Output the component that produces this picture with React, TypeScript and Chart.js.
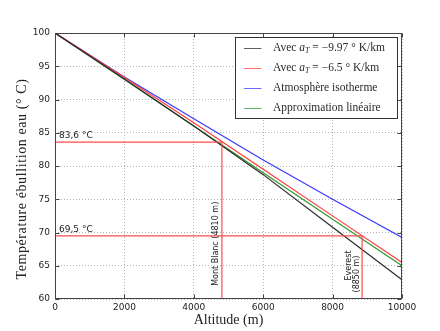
import React, { useEffect, useRef } from 'react';
import { Chart, registerables } from 'chart.js';

Chart.register(...registerables);

// ---- data ----
const altitudes = [0, 2000, 4000, 6000, 8000, 10000];
const tempLapse997 = [100, 93.1, 86.0, 78.7, 70.8, 62.9];
const tempLapse65 = [100, 93.3, 86.5, 79.5, 72.5, 65.5];
const tempIsotherm = [100, 93.4, 87.1, 80.9, 75.0, 69.25];
const tempLinear = [100, 93.0, 86.0, 79.0, 72.0, 65.0];

const seriesLabels = [
  'Avec a_T = \u22129.97 \u00b0 K/km',
  'Avec a_T = \u22126.5 \u00b0 K/km',
  'Atmosph\u00e8re isotherme',
  'Approximation lin\u00e9aire',
];
const seriesColors = ['#2a2a2a', '#ff3b3b', '#3b3bff', '#2e9a2e'];

const peakLabelLines = [['Mont Blanc (4810 m)'], ['Everest', '(8850 m)']];
const peakAltitudes = [4810, 8850];
const peakTemps = [83.6, 69.5];
const peakLabelCenterTemps = [68.3, 64.4];
const tempLabels = ['83,6 \u00b0C', '69,5 \u00b0C'];

const xMin = 0;
const xMax = 10000;
const xStep = 2000;
const yMin = 60;
const yMax = 100;
const yStep = 5;

const xTitle = 'Altitude (m)';
const yTitle = 'Temp\u00e9rature \u00e9bullition eau (\u00b0 C)';

const SERIF = "'Liberation Serif', 'DejaVu Serif', serif";
const SANS = "'DejaVu Sans', sans-serif";

function drawRichLabel(ctx: CanvasRenderingContext2D, text: string, x: number, y: number, size: number) {
  const normal = `${size}px ${SERIF}`;
  const parts = text.split('a_T');
  ctx.font = normal;
  if (parts.length !== 2) {
    ctx.fillText(text, x, y);
    return;
  }
  let cx = x;
  ctx.fillText(parts[0], cx, y);
  cx += ctx.measureText(parts[0]).width;
  ctx.font = `italic ${size}px ${SERIF}`;
  ctx.fillText('a', cx, y);
  cx += ctx.measureText('a').width;
  ctx.font = `italic ${Math.round(size * 0.7)}px ${SERIF}`;
  ctx.fillText('T', cx, y + size * 0.28);
  cx += ctx.measureText('T').width;
  ctx.font = normal;
  ctx.fillText(parts[1], cx, y);
}

const decorPlugin = {
  id: 'decor',
  afterDatasetsDraw(chart: any) {
    const ctx: CanvasRenderingContext2D = chart.ctx;
    const xs = chart.scales.x;
    const ys = chart.scales.y;
    const area = chart.chartArea;

    ctx.save();
    ctx.fillStyle = '#222';

    // temperature labels
    ctx.font = `9px ${SANS}`;
    ctx.textAlign = 'left';
    ctx.textBaseline = 'bottom';
    tempLabels.forEach((t, i) => {
      ctx.fillText(t, xs.getPixelForValue(xMin) + 4, ys.getPixelForValue(peakTemps[i]) - 2);
    });

    // peak labels (rotated)
    ctx.font = `8px ${SANS}`;
    ctx.textAlign = 'center';
    ctx.textBaseline = 'middle';
    peakLabelLines.forEach((lines, i) => {
      const lx = xs.getPixelForValue(peakAltitudes[i]);
      const cy = ys.getPixelForValue(peakLabelCenterTemps[i]);
      const n = lines.length;
      lines.forEach((line, j) => {
        const px = lx - 5.5 - (n - 1 - j) * 8;
        const py = cy + (j - (n - 1) / 2) * 8.5;
        ctx.save();
        ctx.translate(px, py);
        ctx.rotate(-Math.PI / 2);
        ctx.fillText(line, 0, 0);
        ctx.restore();
      });
    });

    // frame
    ctx.strokeStyle = '#444';
    ctx.lineWidth = 1;
    const L = Math.round(area.left) + 0.5;
    const R = Math.round(area.right) - 0.5;
    const T = Math.round(area.top) + 0.5;
    const B = Math.round(area.bottom) - 0.5;
    ctx.strokeRect(L, T, R - L, B - T);
    // inward ticks
    ctx.beginPath();
    for (let v = xMin; v <= xMax; v += xStep) {
      const px = Math.round(xs.getPixelForValue(v)) + 0.5;
      ctx.moveTo(px, B);
      ctx.lineTo(px, B - 4);
      ctx.moveTo(px, T);
      ctx.lineTo(px, T + 4);
    }
    for (let v = yMin; v <= yMax; v += yStep) {
      const py = Math.round(ys.getPixelForValue(v)) + 0.5;
      ctx.moveTo(L, py);
      ctx.lineTo(L + 4, py);
      ctx.moveTo(R, py);
      ctx.lineTo(R - 4, py);
    }
    ctx.stroke();

    // legend
    const boxW = 162;
    const boxH = 81;
    const bx = Math.round(area.right - 5 - boxW) + 0.5;
    const by = Math.round(area.top + 4) + 0.5;
    ctx.fillStyle = '#fff';
    ctx.fillRect(bx, by, boxW, boxH);
    ctx.strokeStyle = '#333';
    ctx.strokeRect(bx, by, boxW, boxH);
    ctx.textAlign = 'left';
    ctx.textBaseline = 'middle';
    seriesLabels.forEach((label, i) => {
      const ry = by + 10 + i * 20;
      ctx.strokeStyle = seriesColors[i];
      ctx.globalAlpha = 0.75;
      ctx.beginPath();
      ctx.moveTo(bx + 8.5, Math.round(ry) + 0.5);
      ctx.lineTo(bx + 26, Math.round(ry) + 0.5);
      ctx.stroke();
      ctx.globalAlpha = 1;
      ctx.fillStyle = '#2a2a2a';
      drawRichLabel(ctx, label, bx + 37.5, ry, 11.5);
    });

    // axis titles
    ctx.fillStyle = '#222';
    ctx.font = `14px ${SERIF}`;
    ctx.textAlign = 'center';
    ctx.textBaseline = 'middle';
    ctx.fillText(xTitle, (area.left + area.right) / 2, 320);
    ctx.save();
    (ctx as any).letterSpacing = '0.6px';
    ctx.translate(22, (area.top + area.bottom) / 2 + 13);
    ctx.rotate(-Math.PI / 2);
    ctx.fillText(yTitle, 0, 0);
    ctx.restore();

    ctx.restore();
  },
};

export default function App() {
  const canvasRef = useRef<HTMLCanvasElement | null>(null);

  useEffect(() => {
    document.body.style.margin = '0';
    const canvas = canvasRef.current;
    if (!canvas) return;

    const seriesValues = [tempLapse997, tempLapse65, tempIsotherm, tempLinear];
    const mainDatasets = seriesValues.map((vals, i) => ({
      label: seriesLabels[i],
      data: altitudes.map((a, k) => ({ x: a, y: vals[k] })),
      borderColor: seriesColors[i],
      borderWidth: 1.2,
      pointRadius: 0,
      tension: 0,
      fill: false,
    }));
    const refDatasets = peakAltitudes.map((alt, i) => ({
      label: 'ref' + i,
      data: [
        { x: xMin, y: peakTemps[i] },
        { x: alt, y: peakTemps[i] },
        { x: alt, y: yMin },
      ],
      borderColor: '#ff4d4d',
      borderWidth: 1.2,
      pointRadius: 0,
      tension: 0,
      fill: false,
    }));

    const chart = new Chart(canvas, {
      type: 'line',
      data: { datasets: [...refDatasets, ...mainDatasets] as any },
      options: {
        animation: false,
        responsive: false,
        devicePixelRatio: 1,
        layout: { padding: { left: 0, top: 33, right: 38, bottom: 0 } },
        plugins: { legend: { display: false }, tooltip: { enabled: false } },
        scales: {
          x: {
            type: 'linear',
            min: xMin,
            max: xMax,
            afterFit: (s: any) => {
              s.height = 32;
            },
            ticks: {
              stepSize: xStep,
              padding: 3,
              color: '#222',
              font: { family: SANS, size: 9 },
              maxRotation: 0,
              callback: (v: any) => String(v),
            },
            grid: { color: '#b5b5b5', drawTicks: false, lineWidth: 1 },
            border: { display: false, dash: [1, 2] },
          },
          y: {
            type: 'linear',
            min: yMin,
            max: yMax,
            afterFit: (s: any) => {
              s.width = 55;
            },
            ticks: {
              stepSize: yStep,
              padding: 5,
              color: '#222',
              font: { family: SANS, size: 9 },
              callback: (v: any) => String(v),
            },
            grid: { color: '#b5b5b5', drawTicks: false, lineWidth: 1 },
            border: { display: false, dash: [1, 2] },
          },
        },
      },
      plugins: [decorPlugin],
    });

    return () => {
      chart.destroy();
    };
  }, []);

  return (
    <div style={{ width: 440, height: 331 }}>
      <canvas ref={canvasRef} width={440} height={331} />
    </div>
  );
}
